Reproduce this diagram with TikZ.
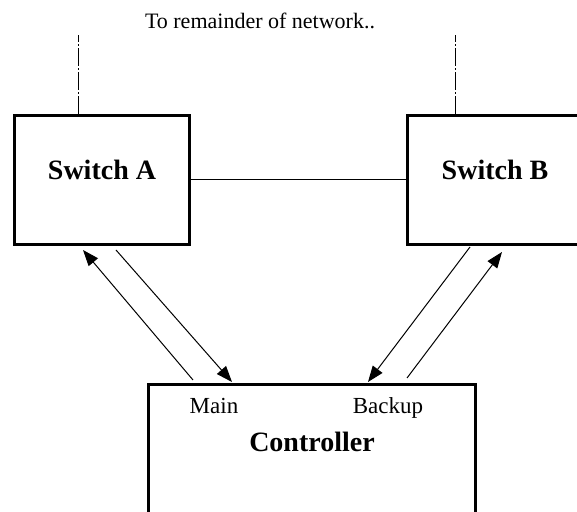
\documentclass[tikz,border=0pt]{standalone}
\usepackage{fontspec}
\setmainfont{Liberation Serif}
\usepackage{tikz}
\usetikzlibrary{arrows.meta,positioning}

\begin{document}
\begin{tikzpicture}[
    node distance=68.5pt and 107.5pt,
    switchbox/.style={rectangle, draw, line width=1.5pt, minimum width=87.5pt, minimum height=64.5pt, text height=1.5ex, text depth=1.5ex, font=\fontsize{14}{16}\selectfont\bfseries},
    ctrlbox/.style={rectangle, draw, line width=1.5pt, minimum width=163.5pt, minimum height=67.2pt, text height=1.5ex, text depth=1.5ex, font=\fontsize{14}{16}\selectfont\bfseries},
    port/.style={anchor=base, inner sep=0pt, font=\fontsize{11.5}{13}\selectfont},
    remark/.style={inner sep=0pt, font=\fontsize{11}{13}\selectfont},
    arrow/.style={-{Triangle[length=8pt,width=6pt]}, line width=0.5pt},
    link/.style={line width=0.5pt},
    uplink/.style={line width=0.5pt, dash pattern=on 9pt off 1pt on 1pt off 1pt}
]
\path[use as bounding box, clip] (-51pt,-166pt) rectangle (237.5pt,90pt);

\node[switchbox] (swa) {Switch A};
\node[switchbox, right=of swa] (swb) {Switch B};
\node[ctrlbox, below=of swa.south east, xshift=60.5pt] (ctrl) {Controller};
\node[port] (main) at ([xshift=-49pt, yshift=-15.2pt]ctrl.north) {Main};
\node[port] (backup) at ([xshift=38pt, yshift=-15.2pt]ctrl.north) {Backup};
\node[remark] (net) at ([xshift=79pt, yshift=79.5pt]swa) {To remainder of network..};

% links up to the rest of the network
\coordinate (upa) at ([xshift=-11.5pt, yshift=39.5pt]swa.north);
\coordinate (upb) at ([xshift=-20pt, yshift=39.5pt]swb.north);
\draw[uplink] ([xshift=-11.5pt]swa.north) -- (upa);
\draw[uplink] ([xshift=-20pt]swb.north) -- (upb);

\draw[link] (swa) -- (swb);

\draw[arrow] ([xshift=-59.5pt, yshift=1.5pt]ctrl.north) -- ([xshift=-9.5pt, yshift=-2pt]swa.south);
\draw[arrow] ([xshift=7pt, yshift=-2pt]swa.south) -- ([xshift=-40pt, yshift=0.5pt]ctrl.north);
\draw[arrow] ([xshift=-12.5pt, yshift=-0.5pt]swb.south) -- ([xshift=28pt, yshift=0.5pt]ctrl.north);
\draw[arrow] ([xshift=47.5pt, yshift=2.5pt]ctrl.north) -- ([xshift=3.5pt, yshift=-3pt]swb.south);

\end{tikzpicture}
\end{document}
